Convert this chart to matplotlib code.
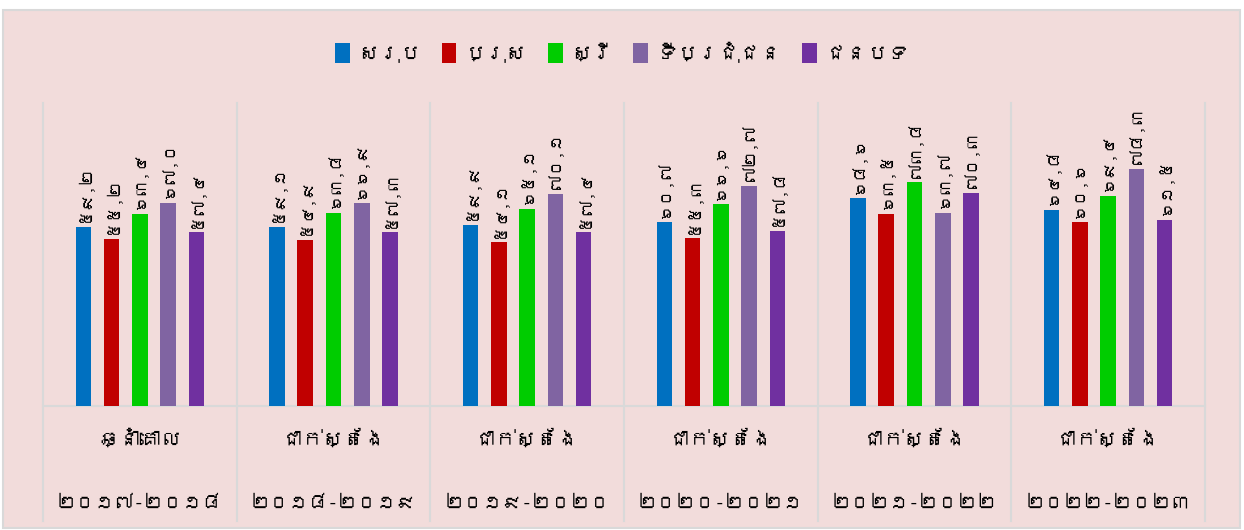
import numpy as np
import matplotlib
import matplotlib.pyplot as plt
from matplotlib import font_manager
from matplotlib.ft2font import FT2Font
from matplotlib.patches import Rectangle
import matplotlib.transforms as mtransforms


def find_khmer_font():
    # look for any installed font that has Khmer glyphs
    seen = set()
    for f in font_manager.fontManager.ttflist:
        if f.fname in seen:
            continue
        seen.add(f.fname)
        try:
            cmap = FT2Font(f.fname).get_charmap()
        except Exception:
            continue
        if 0x1780 in cmap and 0x17E0 in cmap:
            return f.name
    return None


khmer = find_khmer_font()
fams = ([khmer] if khmer else []) + ['DejaVu Sans']
plt.rcParams['font.family'] = fams

series = ['សរុប', 'ប្រុស', 'ស្រី', 'ទីប្រជុំជន', 'ជនបទ']
colors = ['#0070C0', '#C00000', '#00CC00', '#8064A2', '#7030A0']
cat_top = ['ឆ្នាំគោល', 'ជាក់ស្តែង', 'ជាក់ស្តែង', 'ជាក់ស្តែង', 'ជាក់ស្តែង', 'ជាក់ស្តែង']
cat_years = ['២០១៧-២០១៨', '២០១៨-២០១៩', '២០១៩-២០២០', '២០២០-២០២១', '២០២១-២០២២', '២០២២-២០២៣']

total = [59.2, 59.1, 59.9, 60.7, 68.6, 64.8]
male = [55.2, 54.9, 54.1, 55.3, 63.5, 60.6]
female = [63.4, 63.8, 65.1, 66.6, 73.8, 69.4]
urban = [67.0, 66.9, 70.1, 72.7, 63.7, 78.3]
rural = [57.4, 57.3, 57.4, 57.8, 70.3, 61.5]
values = [total, male, female, urban, rural]

khmer_digits = str.maketrans('0123456789.', '០១២៣៤៥៦៧៨៩,')

bg = '#F2DCDB'
fig = plt.figure(figsize=(12.44, 5.30), dpi=100)
fig.patch.set_facecolor('white')
fig.add_artist(Rectangle((3 / 1244, 0.004), 1237 / 1244, 1 - 0.004 - 10 / 530,
                         transform=fig.transFigure, facecolor=bg,
                         edgecolor='#D9D9D9', linewidth=1.5, zorder=0))

ax = fig.add_axes([43 / 1244, 124 / 530, 1162 / 1244, 303 / 530])
ax.set_facecolor('none')
ax.set_xlim(0, 6)
ax.set_ylim(0, 100)

x = np.arange(6) + 0.5
step = 0.146
width = 0.08
for i, (name, vals, c) in enumerate(zip(series, values, colors)):
    xs = x + (i - 2) * step
    ax.bar(xs, vals, width, color=c, label=name, zorder=3)
    for xi, v in zip(xs, vals):
        ax.text(xi, v + 1.5, f'{v:.1f}'.translate(khmer_digits), rotation=90,
                ha='center', va='bottom', fontsize=12, color='black')

for s in ax.spines.values():
    s.set_visible(False)
ax.set_xticks([])
ax.set_yticks([])

grid_c = '#D9D9D9'
ax.axhline(0, color=grid_c, linewidth=1.5, zorder=2, clip_on=False)
trans = mtransforms.blended_transform_factory(ax.transData, ax.transAxes)
for b in range(7):
    ax.plot([b, b], [1.0, -0.38], color=grid_c, linewidth=1.5,
            transform=trans, clip_on=False, zorder=1)

for xi, t1, t2 in zip(x, cat_top, cat_years):
    ax.text(xi, -0.11, t1, transform=trans, ha='center', va='center', fontsize=15)
    ax.text(xi, -0.32, t2, transform=trans, ha='center', va='center', fontsize=14)

fig.legend(loc='center', bbox_to_anchor=(0.5, 1 - 52 / 530), ncol=5,
           frameon=False, fontsize=15, handlelength=0.7, handleheight=1.1,
           handletextpad=0.4, columnspacing=1.0)

fig.savefig('out.png', dpi=100, facecolor=fig.get_facecolor())
